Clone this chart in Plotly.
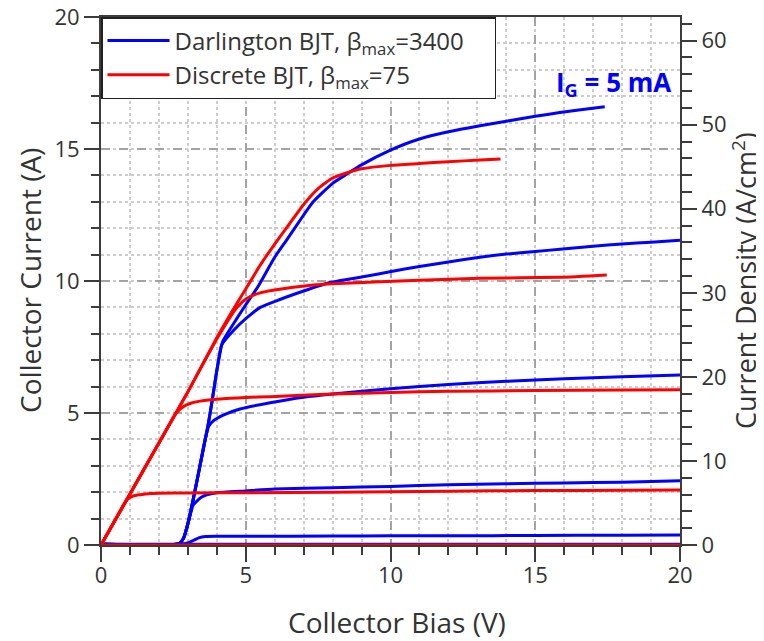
import plotly.graph_objects as go

# ---------------- data ----------------
# Darlington BJT (blue) curves, one per gate current step
dar_x0 = [0, 5, 10, 15, 20]
dar_y0 = [0.03, 0.03, 0.03, 0.03, 0.03]

dar_x1 = [0, 2.7, 3.0, 3.2, 3.4, 3.6, 4, 5, 8, 10, 12, 15, 18, 20]
dar_y1 = [0.03, 0.03, 0.08, 0.18, 0.28, 0.32, 0.33, 0.33, 0.34, 0.35, 0.35, 0.36, 0.37, 0.38]

dar_x2 = [0, 2.7, 2.85, 3.0, 3.18, 3.3, 3.45, 3.65, 4, 5, 6, 8, 10, 12, 14, 16, 18, 20]
dar_y2 = [0.03, 0.05, 0.25, 0.8, 1.5, 1.65, 1.8, 1.9, 1.98, 2.05, 2.12, 2.17, 2.22, 2.28, 2.32, 2.35, 2.38, 2.43]

dar_x3 = [0, 2.7, 2.85, 3.0, 3.18, 3.4, 3.6, 3.72, 3.9, 4.22, 4.8, 5.84, 7, 8, 10, 12, 14, 16, 18, 20]
dar_y3 = [0.03, 0.05, 0.25, 0.8, 1.7, 2.9, 4.0, 4.5, 4.72, 4.92, 5.15, 5.39, 5.6, 5.72, 5.92, 6.08, 6.2, 6.3, 6.37, 6.44]

dar_x4 = [0, 2.7, 2.85, 3.0, 3.18, 3.4, 3.6, 3.7, 3.8, 3.9, 4.0, 4.17, 4.6, 5.03, 5.5, 6.18, 7, 7.9, 9, 9.98,
          11, 12, 13.09, 14, 15, 15.85, 17, 18, 19, 20]
dar_y4 = [0.03, 0.05, 0.25, 0.8, 1.7, 2.9, 4.0, 4.55, 5.2, 5.9, 6.6, 7.58, 8.15, 8.6, 9.0, 9.3, 9.62, 9.94, 10.15, 10.35,
          10.55, 10.72, 10.9, 11.02, 11.12, 11.2, 11.32, 11.4, 11.47, 11.54]

dar_x5 = [0, 2.7, 2.85, 3.0, 3.18, 3.4, 3.6, 3.7, 3.8, 3.9, 4.0, 4.2, 4.5, 5.0, 5.43, 6.0, 6.41, 7.0, 7.33, 8.0,
          8.49, 9.0, 9.98, 11, 12, 13.09, 14.1, 15, 15.85, 16.5, 17.4]
dar_y5 = [0.03, 0.05, 0.25, 0.8, 1.7, 2.9, 4.0, 4.55, 5.2, 5.9, 6.6, 7.7, 8.25, 9.1, 9.8, 10.9, 11.55, 12.5, 13.0, 13.7,
          14.05, 14.4, 14.95, 15.38, 15.65, 15.88, 16.07, 16.24, 16.38, 16.48, 16.6]

# Discrete BJT (red) curves
dis_x0 = [0, 5, 10, 15, 20]
dis_y0 = [0, 0, 0, 0, 0]

dis_x1 = [0, 0.5, 0.9, 1.1, 1.3, 1.52, 1.69, 2, 3, 5, 8, 10, 12, 15, 18, 20]
dis_y1 = [0, 0.97, 1.72, 1.85, 1.9, 1.93, 1.95, 1.96, 1.97, 1.98, 2.0, 2.02, 2.04, 2.06, 2.07, 2.08]

dis_x2 = [0, 1, 2, 2.6, 2.84, 3.1, 3.42, 4, 5, 5.84, 8, 10, 12, 15, 18, 20]
dis_y2 = [0, 1.93, 3.86, 5.0, 5.24, 5.37, 5.45, 5.52, 5.59, 5.62, 5.72, 5.78, 5.82, 5.85, 5.87, 5.88]

dis_x3 = [0, 1, 2, 3, 4, 4.7, 5.03, 5.5, 6.0, 7.33, 8, 9.64, 11, 13.09, 15.85, 17.47]
dis_y3 = [0, 1.93, 3.86, 5.8, 7.8, 9.0, 9.34, 9.55, 9.66, 9.85, 9.9, 9.97, 10.03, 10.1, 10.14, 10.23]

dis_x4 = [0, 1, 2, 3, 4, 4.5, 5, 5.5, 6, 6.5, 7, 7.5, 8, 8.5, 9, 10, 11, 12, 13.09, 13.8]
dis_y4 = [0, 1.93, 3.86, 5.8, 7.85, 8.8, 9.7, 10.6, 11.4, 12.15, 12.9, 13.5, 13.9, 14.1, 14.25, 14.38, 14.45, 14.52, 14.58, 14.62]

# device area used for the right-hand current-density axis (cm^2)
device_area = 0.3184

x_ticks = [0, 5, 10, 15, 20]
y_ticks = [0, 5, 10, 15, 20]
jd_ticks = [0, 10, 20, 30, 40, 50, 60]

BLUE = "#0000FF"
RED = "#FF0000"
FONT = "Open Sans"
TXT = "#333333"
AX = "#3c3c3c"

fig = go.Figure()

dar_sets = [(dar_x0, dar_y0), (dar_x1, dar_y1), (dar_x2, dar_y2), (dar_x3, dar_y3), (dar_x4, dar_y4), (dar_x5, dar_y5)]
dis_sets = [(dis_x0, dis_y0), (dis_x1, dis_y1), (dis_x2, dis_y2), (dis_x3, dis_y3), (dis_x4, dis_y4)]

for i, (xs, ys) in enumerate(dar_sets):
    fig.add_trace(go.Scatter(
        x=xs, y=ys, mode="lines", line=dict(color=BLUE, width=3, shape="spline", smoothing=0.5),
        name="Darlington BJT, β<sub>max</sub>=3400&nbsp;&nbsp;&nbsp;&nbsp;", legendgroup="dar",
        showlegend=(i == len(dar_sets) - 1), legendrank=1))

for i, (xs, ys) in enumerate(dis_sets):
    fig.add_trace(go.Scatter(
        x=xs, y=ys, mode="lines", line=dict(color=RED, width=3, shape="spline", smoothing=0.5),
        name="Discrete BJT, β<sub>max</sub>=75", legendgroup="dis",
        showlegend=(i == len(dis_sets) - 1), legendrank=2))

# invisible trace on the density axis so that it is drawn
fig.add_trace(go.Scatter(
    x=dar_x5, y=[v / device_area for v in dar_y5], yaxis="y2", mode="lines",
    line=dict(color="rgba(0,0,0,0)", width=0), showlegend=False, hoverinfo="skip"))

axis_common = dict(
    showline=True, linecolor=AX, linewidth=2,
    ticks="outside", ticklen=15, tickwidth=2, tickcolor=AX,
    tickfont=dict(family=FONT, size=22, color=TXT),
    zeroline=False, automargin=False, ticklabeloverflow="allow",
)
minor_grid = dict(showgrid=True, gridcolor="#cccccc", gridwidth=1.5, griddash="dot")

# the page has an 8px body margin, so the figure is sized to fit the window
fig.update_layout(
    width=756, height=633,
    margin=dict(l=93, r=84, t=9, b=96),
    paper_bgcolor="white", plot_bgcolor="white",
    font=dict(family=FONT, color=TXT),
    xaxis=dict(
        **axis_common, range=[0, 20], tickvals=x_ticks, mirror=True, ticklabelstandoff=-5,
        showgrid=True, gridcolor="#a3a3a3", gridwidth=2, griddash="dash",
        minor=dict(dtick=1, tick0=0, ticks="outside", ticklen=8, tickwidth=2, tickcolor=AX, **minor_grid),
    ),
    yaxis=dict(
        **axis_common, range=[0, 20], tickvals=y_ticks, mirror=False,
        showgrid=True, gridcolor="#a3a3a3", gridwidth=2, griddash="dash",
        minor=dict(dtick=1, tick0=0, ticks="outside", ticklen=8, tickwidth=2, tickcolor=AX, **minor_grid),
    ),
    yaxis2=dict(
        **axis_common, overlaying="y", side="right", anchor="x",
        range=[0, 20 / device_area], tickvals=jd_ticks, showgrid=False,
        minor=dict(dtick=2, tick0=0, ticks="outside", ticklen=10, tickwidth=2, tickcolor=AX),
    ),
    legend=dict(
        x=0, y=1, xanchor="left", yanchor="top", bgcolor="white",
        bordercolor="#202020", borderwidth=1.5,
        font=dict(family=FONT, size=24, color=TXT), tracegroupgap=0,
        itemwidth=62,
    ),
    showlegend=True,
)

TITLE_FONT = dict(family=FONT, size=28, color=TXT)
fig.add_annotation(text="Collector Bias (V)", xref="paper", yref="paper", x=0.5, y=0,
                   xshift=6, yshift=-77, showarrow=False, font=TITLE_FONT,
                   xanchor="center", yanchor="middle")
fig.add_annotation(text="Collector Current (A)", xref="paper", yref="paper", x=0, y=0.5,
                   xshift=-71, showarrow=False, font=TITLE_FONT, textangle=-90,
                   xanchor="center", yanchor="middle")
fig.add_annotation(text="Current Density (A/cm<sup>2</sup>)", xref="paper", yref="paper", x=1, y=0.5,
                   xshift=64, showarrow=False, font=dict(family=FONT, size=27, color=TXT), textangle=-90,
                   xanchor="center", yanchor="middle")

fig.add_annotation(
    x=17.7, y=17.5, xref="x", yref="y", text="<b>I<sub>G</sub> = 5 mA</b>", showarrow=False,
    font=dict(family=FONT, size=26, color=BLUE), xanchor="center", yanchor="middle")

fig.write_html("out.html")
